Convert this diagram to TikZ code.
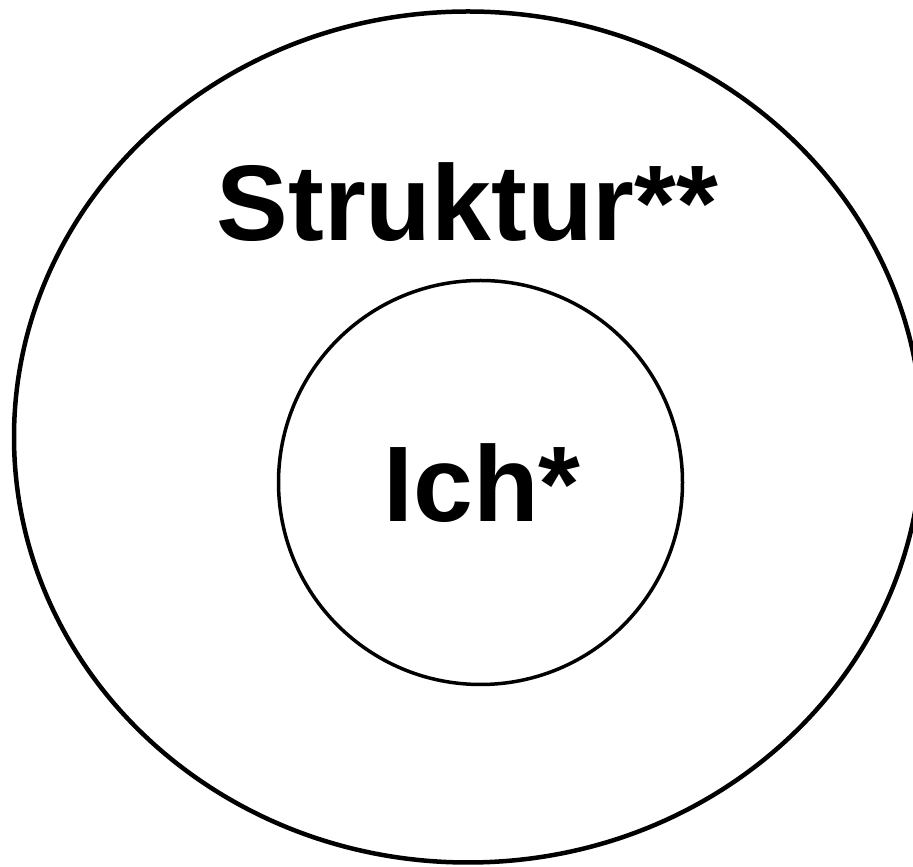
\documentclass[tikz,border=0pt]{standalone}
\usepackage{fontspec}
\setmainfont{Liberation Sans}
\usetikzlibrary{shapes.geometric}
\begin{document}
\begin{tikzpicture}[x=1pt,y=1pt,
  ring/.style={draw=black,inner sep=0pt,outer sep=0pt},
  label/.style={inner sep=0pt,anchor=base,font=\fontsize{107.5}{110}\selectfont\bfseries}]
\useasboundingbox (0,0) rectangle (913,867);
\clip (0,0) rectangle (913,867);
\fill[white] (0,0) rectangle (913,867);
\node[ring,ellipse,line width=4.5pt,minimum width=908pt,minimum height=851pt] (outer) at (468,430) {};
\node[ring,circle,line width=3.5pt,minimum size=404pt] (inner) at (480.5,384.5) {};
\node[label] (struktur) at (467.5,626.5) {Struktur**};
\node[label] (ich) at (482,345) {Ich*};
\end{tikzpicture}
\end{document}
